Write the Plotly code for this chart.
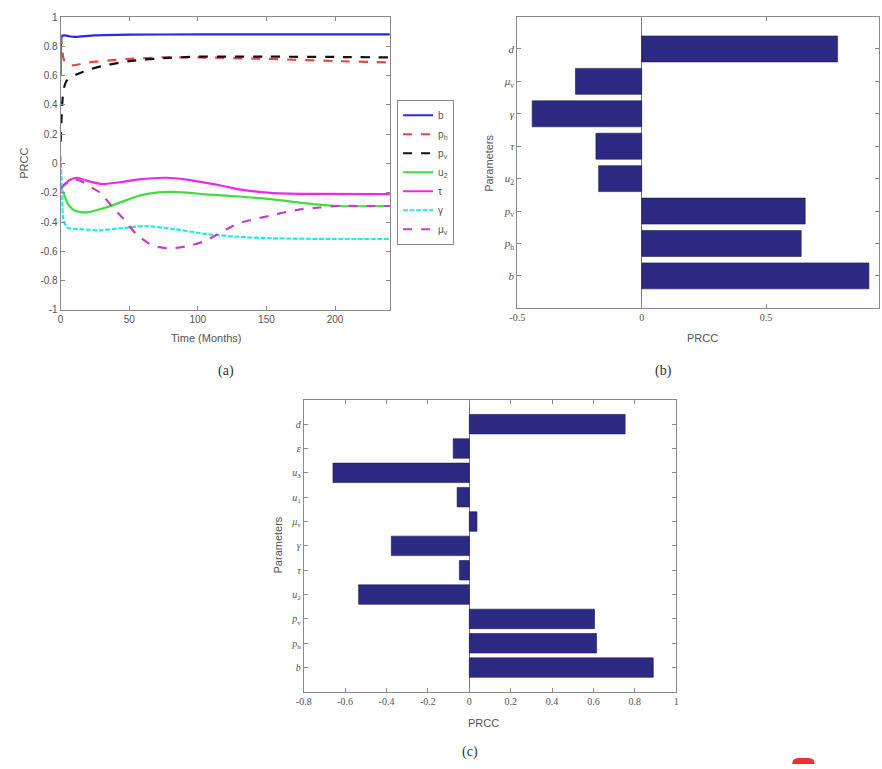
import plotly.graph_objects as go

W, H = 882, 769

# ---------------- (a) PRCC over time ----------------
t_b = [0, 1, 3, 6, 10, 15, 25, 50, 100, 150, 200, 240]
v_b = [0.60, 0.87, 0.875, 0.87, 0.865, 0.868, 0.875, 0.88, 0.882, 0.882, 0.882, 0.882]

t_ph = [0, 1, 2, 4, 7, 12, 20, 30, 50, 75, 100, 150, 200, 240]
v_ph = [0.88, 0.80, 0.72, 0.68, 0.67, 0.675, 0.69, 0.70, 0.715, 0.725, 0.725, 0.715, 0.70, 0.69]

t_pv = [0, 1, 2, 4, 7, 12, 20, 30, 50, 75, 100, 150, 200, 240]
v_pv = [0.15, 0.38, 0.50, 0.56, 0.59, 0.61, 0.64, 0.665, 0.70, 0.72, 0.73, 0.73, 0.728, 0.725]

t_u2 = [0, 2, 5, 10, 19, 33, 45, 57, 68, 79, 92, 105, 130, 153, 177, 201, 240]
v_u2 = [-0.17, -0.20, -0.27, -0.32, -0.333, -0.30, -0.26, -0.22, -0.20, -0.193, -0.198, -0.21, -0.225, -0.243, -0.27, -0.29, -0.29]

t_tau = [0, 3, 7, 12, 20, 31, 45, 57, 77, 92, 105, 117, 129, 153, 180, 240]
v_tau = [-0.17, -0.14, -0.11, -0.097, -0.12, -0.14, -0.125, -0.108, -0.097, -0.11, -0.13, -0.15, -0.175, -0.20, -0.207, -0.209]

t_gam = [0, 1, 2, 5, 15, 29, 45, 62, 81, 105, 129, 153, 200, 240]
v_gam = [0.05, -0.20, -0.38, -0.438, -0.448, -0.456, -0.44, -0.427, -0.445, -0.48, -0.50, -0.51, -0.515, -0.515]

t_muv = [0, 5, 10, 15, 20, 29, 38, 46, 55, 67, 79, 92, 105, 117, 129, 141, 153, 165, 177, 189, 201, 220, 240]
v_muv = [-0.17, -0.13, -0.11, -0.12, -0.15, -0.20, -0.30, -0.38, -0.48, -0.56, -0.58, -0.565, -0.53, -0.47, -0.41, -0.38, -0.355, -0.33, -0.31, -0.30, -0.29, -0.29, -0.29]

a_xticks = [0, 50, 100, 150, 200]
a_yticks = [-1, -0.8, -0.6, -0.4, -0.2, 0, 0.2, 0.4, 0.6, 0.8, 1]
a_yticktext = ["-1", "-0.8", "-0.6", "-0.4", "-0.2", "0", "0.2", "0.4", "0.6", "0.8", "1"]

# ---------------- (b) PRCC bar chart ----------------
b_params = ["<i>b</i>", "<i>p</i><sub>h</sub>", "<i>p</i><sub>v</sub>", "<i>u</i><sub>2</sub>",
            "<i>τ</i>", "<i>γ</i>", "<i>μ</i><sub>v</sub>", "<i>d</i>"]
b_prcc = [0.913, 0.641, 0.657, -0.173, -0.184, -0.44, -0.266, 0.787]
b_xticks = [-0.5, 0, 0.5]
b_xticktext = ["-0.5", "0", "0.5"]

# ---------------- (c) PRCC bar chart ----------------
c_params = ["<i>b</i>", "<i>p</i><sub>h</sub>", "<i>p</i><sub>v</sub>", "<i>u</i><sub>2</sub>",
            "<i>τ</i>", "<i>γ</i>", "<i>μ</i><sub>v</sub>", "<i>u</i><sub>1</sub>",
            "<i>u</i><sub>3</sub>", "<i>ε</i>", "<i>d</i>"]
c_prcc = [0.889, 0.615, 0.605, -0.535, -0.048, -0.377, 0.037, -0.059, -0.659, -0.078, 0.753]
c_xticks = [-0.8, -0.6, -0.4, -0.2, 0, 0.2, 0.4, 0.6, 0.8, 1]
c_xticktext = ["-0.8", "-0.6", "-0.4", "-0.2", "0", "0.2", "0.4", "0.6", "0.8", "1"]

BAR = "#2c2a82"
AXC = "#8a8a8a"
TXT = "#555555"
SANS = "Liberation Sans, Arial, sans-serif"
SERIF = "Liberation Serif, DejaVu Serif, serif"


def px_x(x):
    return x / W


def px_y(y):
    return 1 - y / H


fig = go.Figure()

series = [
    (t_b, v_b, "b", "#2a2ae6", "solid"),
    (t_ph, v_ph, "p<sub>h</sub>", "#e04848", "dash"),
    (t_pv, v_pv, "p<sub>v</sub>", "#111111", "dash"),
    (t_u2, v_u2, "u<sub>2</sub>", "#3ede3e", "solid"),
    (t_tau, v_tau, "τ", "#ea2aea", "solid"),
    (t_gam, v_gam, "γ", "#2ae8ea", "5px,1.5px"),
    (t_muv, v_muv, "μ<sub>v</sub>", "#c040cc", "dash"),
]
for t, v, name, col, dash in series:
    fig.add_trace(go.Scatter(
        x=t, y=v, mode="lines", name=name,
        line=dict(color=col, width=2.2, dash=dash, shape="spline", smoothing=0.6),
        xaxis="x", yaxis="y",
    ))

fig.add_trace(go.Bar(
    x=b_prcc, y=b_params, orientation="h", width=0.8,
    marker=dict(color=BAR, line=dict(color="#1a1a55", width=0.6)),
    showlegend=False, xaxis="x2", yaxis="y2",
))
fig.add_trace(go.Bar(
    x=c_prcc, y=c_params, orientation="h", width=0.8,
    marker=dict(color=BAR, line=dict(color="#1a1a55", width=0.6)),
    showlegend=False, xaxis="x3", yaxis="y3",
))

common = dict(showline=True, linecolor=AXC, linewidth=1, mirror="ticks",
              ticks="inside", ticklen=4, tickcolor=AXC, showgrid=False)

fig.update_layout(
    width=W, height=H,
    margin=dict(l=0, r=0, t=0, b=0),
    paper_bgcolor="white", plot_bgcolor="white",
    bargap=0.2,
    xaxis=dict(domain=[px_x(53.3), px_x(386.7)], range=[0, 240], anchor="y",
               tickvals=a_xticks, zeroline=False,
               tickfont=dict(family=SANS, size=10, color=TXT), **common),
    yaxis=dict(domain=[px_y(309), px_y(12.3)], range=[-1, 1], anchor="x",
               tickvals=a_yticks, ticktext=a_yticktext, zeroline=False,
               tickfont=dict(family=SANS, size=10, color=TXT), **common),
    xaxis2=dict(domain=[px_x(515.7), 1.0], range=[-0.5, 0.9536], anchor="y2",
                tickvals=b_xticks, ticktext=b_xticktext,
                zeroline=True, zerolinecolor="#777777", zerolinewidth=1,
                tickfont=dict(family=SERIF, size=10, color=TXT), **common),
    yaxis2=dict(domain=[px_y(307.3), px_y(11.7)], range=[-1, 8], anchor="x2",
                type="category", categoryorder="array", categoryarray=b_params,
                tickfont=dict(family=SERIF, size=11, color=TXT), **common),
    xaxis3=dict(domain=[px_x(299.5), px_x(676.7)], range=[-0.8, 1], anchor="y3",
                tickvals=c_xticks, ticktext=c_xticktext,
                zeroline=True, zerolinecolor="#777777", zerolinewidth=1,
                tickfont=dict(family=SERIF, size=10, color=TXT), **common),
    yaxis3=dict(domain=[px_y(696), px_y(400)], range=[-1, 11], anchor="x3",
                type="category", categoryorder="array", categoryarray=c_params,
                tickfont=dict(family=SERIF, size=10, color=TXT), **common),
    legend=dict(x=px_x(394), y=px_y(96), xanchor="left", yanchor="top",
                bgcolor="white", bordercolor=AXC, borderwidth=1,
                font=dict(family=SANS, size=10, color=TXT),
                itemwidth=30, tracegroupgap=0),
)

annots = [
    dict(x=px_x(201), y=px_y(337), text="Time (Months)", font=dict(family=SANS, size=11, color=TXT)),
    dict(x=px_x(16), y=px_y(160), text="PRCC", textangle=-90, font=dict(family=SANS, size=11, color=TXT)),
    dict(x=px_x(221), y=px_y(371), text="(a)", font=dict(family=SERIF, size=14, color="#333333")),
    dict(x=px_x(703), y=px_y(337), text="PRCC", font=dict(family=SANS, size=11, color=TXT)),
    dict(x=px_x(487), y=px_y(160), text="Parameters", textangle=-90, font=dict(family=SANS, size=11, color=TXT)),
    dict(x=px_x(664), y=px_y(371), text="(b)", font=dict(family=SERIF, size=14, color="#333333")),
    dict(x=px_x(482), y=px_y(727), text="PRCC", font=dict(family=SANS, size=11, color=TXT)),
    dict(x=px_x(273), y=px_y(547), text="Parameters", textangle=-90, font=dict(family=SANS, size=11, color=TXT)),
    dict(x=px_x(468), y=px_y(757), text="(c)", font=dict(family=SERIF, size=14, color="#333333")),
]
for a in annots:
    a.update(xref="paper", yref="paper", showarrow=False, xanchor="center", yanchor="middle")
fig.update_layout(annotations=annots)

# small red tab at the bottom edge
fig.add_shape(type="path", xref="paper", yref="paper",
              path=f"M {px_x(794)},{px_y(769)} L {px_x(795)},{px_y(765)} Q {px_x(797)},{px_y(763)} {px_x(801)},{px_y(763)} "
                   f"L {px_x(810)},{px_y(763)} Q {px_x(814)},{px_y(763)} {px_x(816)},{px_y(765)} L {px_x(817)},{px_y(769)} Z",
              fillcolor="#f03030", line=dict(width=0))

fig.write_html("out.html")
